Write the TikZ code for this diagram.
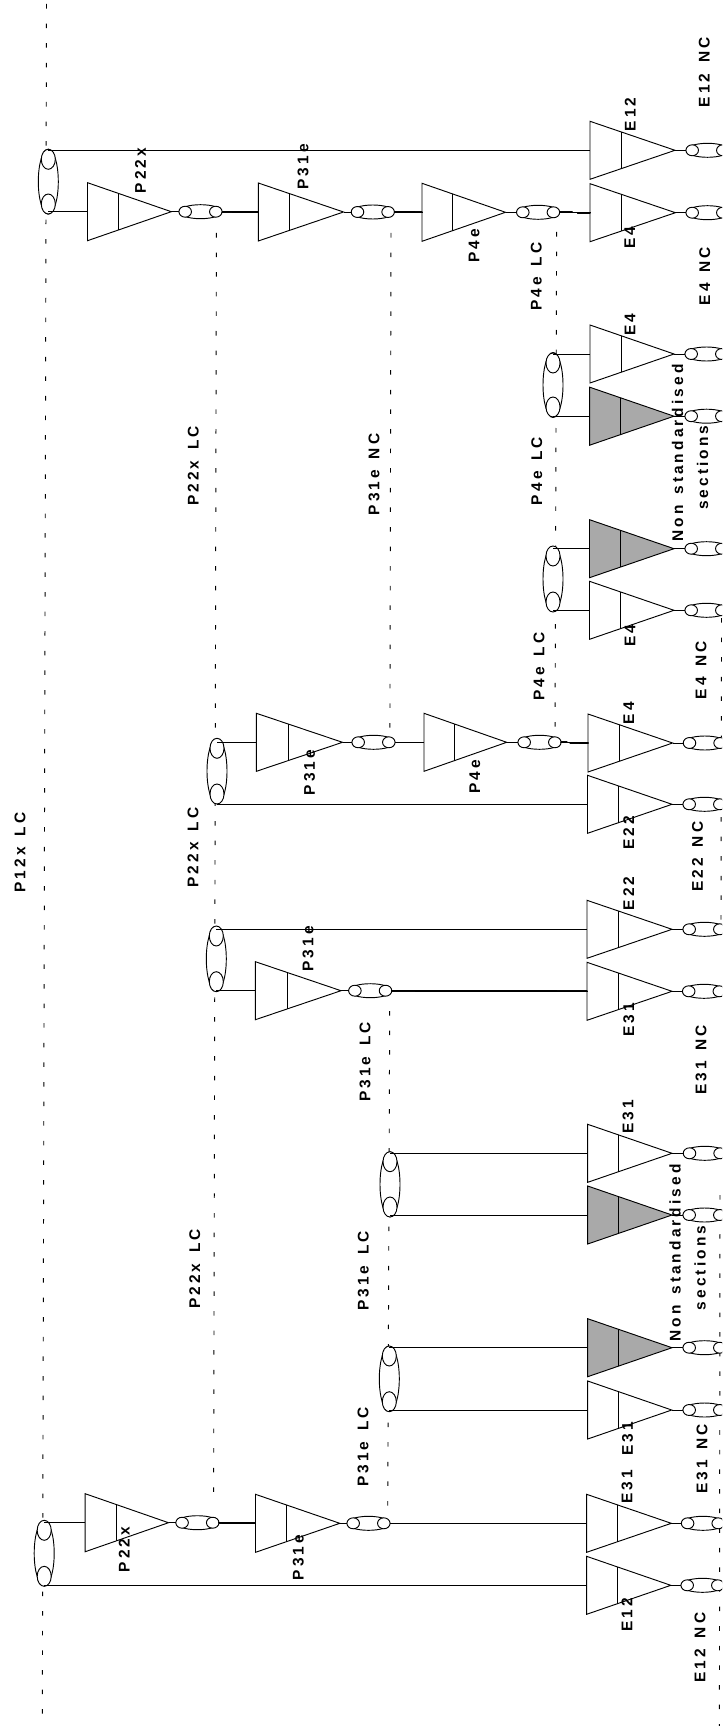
\documentclass[tikz,border=0pt]{standalone}
\usepackage{fontspec}
\setmainfont{Liberation Sans}[LetterSpace=20,WordSpace=1.45]
\usetikzlibrary{shapes.geometric}
\definecolor{sect}{HTML}{A9A9A9}
\tikzset{
  wire/.style={line width=0.7pt,black},
  trunk/.style={line width=0.7pt,black,dash pattern=on 3.4pt off 11.3pt},
  body/.style={line width=0.7pt,draw=black},
  oval/.style={ellipse,draw=black,fill=white,line width=0.7pt,inner sep=0pt,outer sep=0pt},
  cpl/.style={oval,minimum width=32.25pt,minimum height=10.5pt},
  cplend/.style={oval,minimum width=9.4pt,minimum height=8.2pt},
  spl/.style={oval,minimum width=15pt,minimum height=48.75pt},
  splend/.style={oval,minimum width=10.5pt,minimum height=15pt},
  lbl/.style={rotate=90,inner sep=0pt,outer sep=0pt,text=black,font=\bfseries\fontsize{11.6pt}{13pt}\selectfont},
}
% amplifier: [fill]{name}{x base}{y centre}{x apex}
\newcommand{\amp}[5][white]{%
  \pgfmathsetmacro{\xi}{#3+0.37*(#5-#3)}%
  \filldraw[body,fill=#1] (#3,#4-29) -- (#5,#4) -- (#3,#4+29) -- cycle;
  \draw[body] (\xi,#4-18.3) -- (\xi,#4+18.3);
  \coordinate (#2-in) at (#3,#4);
  \coordinate (#2-out) at (#5,#4);
}
% coupler: {name}{x left}{y}
\newcommand{\cplr}[3]{%
  \node[cpl] (#1) at (#2+21.5,#3) {};
  \node[cplend] (#1-a) at (#2+6.2,#3) {};
  \node[cplend] (#1-b) at (#2+36.8,#3) {};
}
% splitter: {name}{x centre}{y top}{y bottom}
\newcommand{\splt}[4]{%
  \node[spl] (#1) at (#2,{(#3+#4)/2}) {};
  \node[splend] (#1-a) at (#2,#3+10) {};
  \node[splend] (#1-b) at (#2,#4-10) {};
}
\newcommand{\amplink}[2]{\draw[wire] (#1-out) -- (#1-out -| #2.west);}
\begin{document}
\begin{tikzpicture}[x=0.75pt,y=-0.75pt]
\useasboundingbox (0,0) rectangle (722,1726);
\clip (0,0) rectangle (722,1726);
\fill[white] (0,0) rectangle (722,1726);
% trunk lines
\coordinate (m1) at (46.5,4); \coordinate (m2) at (42.3,1726);
\coordinate (d1) at (216.4,233); \coordinate (d2) at (213.6,1505);
\coordinate (e1) at (391,233); \coordinate (e2) at (389.9,736);
\coordinate (f1) at (389.7,1011); \coordinate (f2) at (387.7,1518);
\coordinate (g1) at (556.6,232); \coordinate (g2) at (555,736);
\coordinate (h1) at (721.5,618); \coordinate (h2) at (721.4,737);
\coordinate (i1) at (721.2,817); \coordinate (i2) at (721,924);
\coordinate (j1) at (720,1195); \coordinate (j2) at (719.4,1726);
\foreach \a/\b in {m1/m2,d1/d2,e1/e2,f1/f2,g1/g2,h1/h2,i1/i2,j1/j2}
  \draw[trunk] (\a) -- (\b);
% amplifiers, top group
\amp{a1}{87.5}{211.7}{171.3}
\amp{a2}{258.3}{212}{343.5}
\amp{a3}{422}{212.3}{505.5}
\amp{a4}{590}{212.7}{675.4}
\amp{a5}{590}{150.3}{675}
\amp{a6}{590}{354}{674}
\amp[sect]{a7}{589.7}{416.2}{674}
\amp[sect]{a8}{589.5}{548.7}{674}
\amp{a9}{589.5}{610.3}{674}
% second
\amp{b1}{256.4}{742.3}{342.5}
\amp{b2}{424}{742.3}{506.7}
\amp{b3}{588}{743}{672.6}
\amp{b4}{587.5}{804.3}{672}
\amp{b5}{587}{929.3}{672}
\amp{b6}{587}{991.3}{672}
\amp{b7}{255.4}{990.7}{341}
% third
\amp{c1}{587.7}{1153.3}{672}
\amp[sect]{c2}{587.7}{1215}{672}
\amp[sect]{c3}{587.7}{1347.7}{672}
\amp{c4}{587.7}{1410}{671.7}
\amp{c5}{85.2}{1522.7}{168.5}
\amp{c6}{255.5}{1523.3}{339.8}
\amp{c7}{586.6}{1523.3}{671.3}
\amp{c8}{586.6}{1585.3}{670.8}
% couplers
\cplr{k1}{179}{211.7}
\cplr{k2}{351.3}{212}
\cplr{k3}{516.6}{212.3}
\cplr{k4}{686}{212.7}
\cplr{k5}{686}{150.3}
\cplr{k6}{685}{354}
\cplr{k7}{685}{416.2}
\cplr{k8}{685}{548.7}
\cplr{k9}{685}{610.3}
\cplr{l1}{352}{742.3}
\cplr{l2}{518}{742.3}
\cplr{l3}{683.3}{743}
\cplr{l4}{683}{804.3}
\cplr{l5}{683}{929.3}
\cplr{l6}{682.5}{991.3}
\cplr{l7}{348.7}{990.7}
\cplr{q1}{683.3}{1153.3}
\cplr{q2}{683}{1215}
\cplr{q3}{683}{1347.7}
\cplr{q4}{683}{1410}
\cplr{q5}{175.9}{1522.7}
\cplr{q6}{347}{1523.3}
\cplr{q7}{681.4}{1523.3}
\cplr{q8}{681}{1585.3}
% splitters
\splt{s1}{48.3}{149.3}{214}
\splt{s2}{553}{353}{417}
\splt{s3}{553}{546}{612}
\splt{s4}{217}{738.3}{804}
\splt{s5}{216.3}{926}{991.7}
\splt{s6}{390}{1151.7}{1217}
\splt{s7}{389.3}{1346}{1411.7}
\splt{s8}{44.2}{1520.3}{1586.3}
% connectors
\foreach \a/\b in {a1/k1,a2/k2,a3/k3,a4/k4,a5/k5,a6/k6,a7/k7,a8/k8,a9/k9,
  b1/l1,b2/l2,b3/l3,b4/l4,b5/l5,b6/l6,b7/l7,
  c1/q1,c2/q2,c3/q3,c4/q4,c5/q5,c6/q6,c7/q7,c8/q8}
  \amplink{\a}{\b}
\foreach \a/\b in {k1/a2,k2/a3,k3/a4,l1/b2,l2/b3,l7/b6,q5/c6,q6/c7}
  \draw[wire] (\a.east) -- (\b-in);
\foreach \a/\b in {s1-a/a5,s2-a/a6,s3-a/a8,s4-a/b1,s5-a/b5,s6-a/c1,s7-a/c3,s8-a/c5,
  s1-b/a1,s2-b/a7,s3-b/a9,s4-b/b4,s5-b/b7,s6-b/c2,s7-b/c4,s8-b/c8}
  \draw[wire] (\a |- \b-in) -- (\b-in);
% labels
\node[lbl] (t01) at (20,852.5) {P12x LC};
\node[lbl] (t02) at (140.4,170.5) {P22x};
\node[lbl] (t03) at (303,167) {P31e};
\node[lbl] (t04) at (474,246) {P4e};
\node[lbl] (t05) at (536.4,276.7) {P4e LC};
\node[lbl] (t06) at (630.3,114.3) {E12};
\node[lbl] (t07) at (704.4,72.3) {E12 NC};
\node[lbl] (t08) at (629.8,237.5) {E4};
\node[lbl] (t09) at (704.9,276) {E4 NC};
\node[lbl] (t10) at (630,324.5) {E4};
\node[lbl] (t11) at (677.7,453) {Non standardised};
\node[lbl] (t12) at (702.7,467.7) {sections};
\node[lbl] (t13) at (536.7,471) {P4e LC};
\node[lbl] (t14) at (193.3,466) {P22x LC};
\node[lbl] (t15) at (374,474.5) {P31e NC};
\node[lbl] (t16) at (630,635.5) {E4};
\node[lbl] (t17) at (701,670) {E4 NC};
\node[lbl] (t18) at (539,666.6) {P4e LC};
\node[lbl] (t19) at (193,847.5) {P22x LC};
\node[lbl] (t20) at (309.6,772.5) {P31e};
\node[lbl] (t21) at (474.8,777) {P4e};
\node[lbl] (t22) at (628.7,713) {E4};
\node[lbl] (t23) at (628.7,832.7) {E22};
\node[lbl] (t24) at (697.5,856.7) {E22 NC};
\node[lbl] (t25) at (628.7,893.3) {E22};
\node[lbl] (t26) at (308,949) {P31e};
\node[lbl] (t27) at (628.7,1020) {E31};
\node[lbl] (t28) at (701,1060) {E31 NC};
\node[lbl] (t29) at (365,1062) {P31e LC};
\node[lbl] (t30) at (194.7,1269) {P22x LC};
\node[lbl] (t31) at (363.3,1271) {P31e LC};
\node[lbl] (t32) at (628,1117) {E31};
\node[lbl] (t33) at (675,1253) {Non standardised};
\node[lbl] (t34) at (700,1268) {sections};
\node[lbl] (t35) at (363,1447) {P31e LC};
\node[lbl] (t36) at (627.5,1439) {E31};
\node[lbl] (t37) at (702,1459) {E31 NC};
\node[lbl] (t38) at (627,1487) {E31};
\node[lbl] (t39) at (124.3,1549.5) {P22x};
\node[lbl] (t40) at (298.3,1557.5) {P31e};
\node[lbl] (t41) at (627,1614.6) {E12};
\node[lbl] (t42) at (700,1647.5) {E12 NC};
\end{tikzpicture}
\end{document}
